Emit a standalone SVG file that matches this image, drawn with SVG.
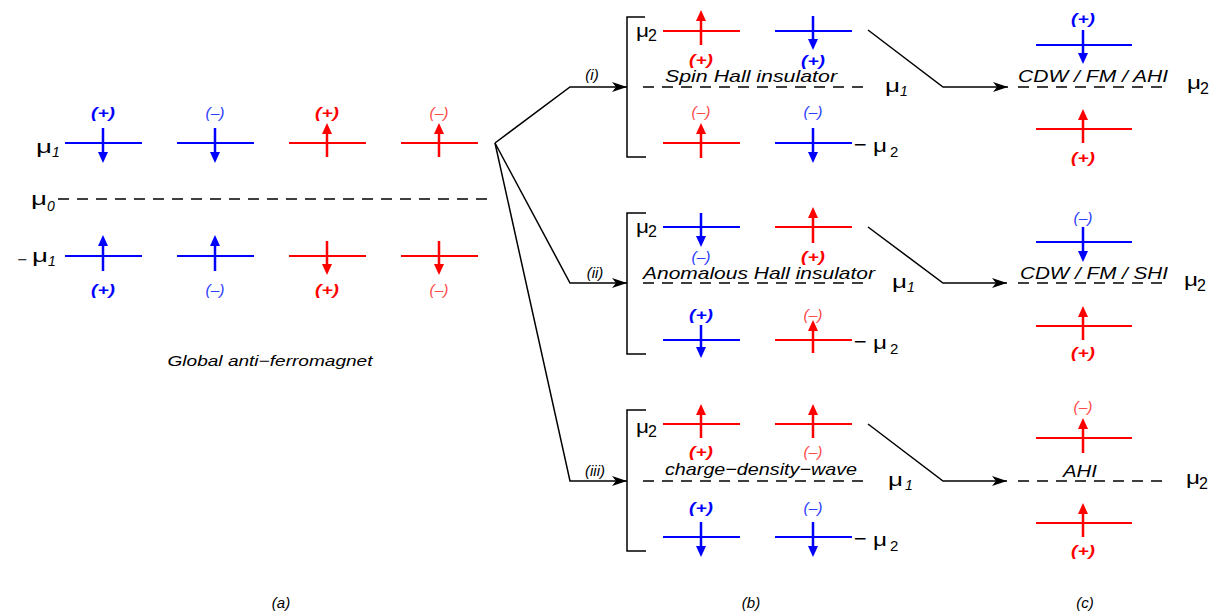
<svg xmlns="http://www.w3.org/2000/svg" width="1220" height="612" viewBox="0 0 1220 612">
<style>
text{font-family:"Liberation Sans",Arial,sans-serif;}
.lb{stroke:#0000ff;stroke-width:2;fill:none}
.lr{stroke:#ff0000;stroke-width:2;fill:none}
.ab{stroke:#0000ff;stroke-width:2.5;fill:none;marker-end:url(#hb)}
.ar{stroke:#ff0000;stroke-width:2.5;fill:none;marker-end:url(#hr)}
.dash{stroke:#000;stroke-width:1.5;stroke-dasharray:11 8;fill:none}
.br{stroke:#000;stroke-width:1.5;fill:none}
.conA{stroke:#000;stroke-width:1.5;fill:none;marker-end:url(#hk)}
.pb{fill:#0000ff;font-size:15px;font-style:italic;font-weight:bold;text-anchor:middle}
.pr{fill:#ff0000;font-size:15px;font-style:italic;font-weight:bold;text-anchor:middle}
.mb{fill:#2a3cff;font-size:15px;font-style:italic;text-anchor:middle}
.mr{fill:#ff4a4a;font-size:15px;font-style:italic;text-anchor:middle}
.mu{font-size:19px;fill:#000}
text.minus{font-family:"DejaVu Sans",sans-serif;font-size:17px;fill:#000}
.sub{font-size:16px;fill:#000}
.subi{font-size:14px;fill:#000;font-style:italic}
.it{font-size:17px;font-style:italic;fill:#000}
.cap{font-size:15px;font-style:italic;fill:#000;text-anchor:middle}
</style>
<defs>
<marker id="hb" viewBox="0 0 11 10" markerWidth="11" markerHeight="10" refX="1" refY="5" orient="auto" markerUnits="userSpaceOnUse"><path d="M0,0 L11,5 L0,10 z" fill="#0000ff"/></marker>
<marker id="hr" viewBox="0 0 11 10" markerWidth="11" markerHeight="10" refX="1" refY="5" orient="auto" markerUnits="userSpaceOnUse"><path d="M0,0 L11,5 L0,10 z" fill="#ff0000"/></marker>
<marker id="hk" viewBox="0 0 15 10" markerWidth="15" markerHeight="10" refX="15" refY="5" orient="auto" markerUnits="userSpaceOnUse"><path d="M0,0 L15,5 L0,10 L4,5 z" fill="#000"/></marker>
</defs>

<g id="panel-a">
  <text x="36" y="153" class="mu" textLength="16" lengthAdjust="spacingAndGlyphs">μ</text><text x="52" y="157" class="subi">1</text>
  <text x="31" y="205" class="mu" textLength="16" lengthAdjust="spacingAndGlyphs">μ</text><text x="47" y="211" class="subi">0</text>
  <text x="17" y="264" class="minus" style="font-size:13px">−</text>
  <text x="32" y="262" class="mu" textLength="16" lengthAdjust="spacingAndGlyphs">μ</text><text x="48" y="266" class="subi">1</text>
  <line x1="58" y1="199" x2="490" y2="199" class="dash"/>
  <line x1="65" y1="143" x2="142" y2="143" class="lb"/>
  <line x1="177" y1="143" x2="254" y2="143" class="lb"/>
  <line x1="289" y1="143" x2="366" y2="143" class="lr"/>
  <line x1="401" y1="143" x2="478" y2="143" class="lr"/>
  <line x1="103" y1="128" x2="103" y2="153" class="ab"/>
  <line x1="215" y1="128" x2="215" y2="153" class="ab"/>
  <line x1="327" y1="157" x2="327" y2="133" class="ar"/>
  <line x1="439" y1="157" x2="439" y2="133" class="ar"/>
  <text x="103" y="118" class="pb" textLength="24" lengthAdjust="spacingAndGlyphs">(+)</text>
  <text x="215" y="118" class="mb" textLength="19" lengthAdjust="spacingAndGlyphs">(–)</text>
  <text x="327" y="118" class="pr" textLength="24" lengthAdjust="spacingAndGlyphs">(+)</text>
  <text x="439" y="118" class="mr" textLength="19" lengthAdjust="spacingAndGlyphs">(–)</text>
  <line x1="65" y1="256" x2="142" y2="256" class="lb"/>
  <line x1="177" y1="256" x2="254" y2="256" class="lb"/>
  <line x1="289" y1="256" x2="366" y2="256" class="lr"/>
  <line x1="401" y1="256" x2="478" y2="256" class="lr"/>
  <line x1="103" y1="271" x2="103" y2="245" class="ab"/>
  <line x1="215" y1="271" x2="215" y2="245" class="ab"/>
  <line x1="327" y1="241" x2="327" y2="265" class="ar"/>
  <line x1="439" y1="241" x2="439" y2="265" class="ar"/>
  <text x="103" y="295" class="pb" textLength="24" lengthAdjust="spacingAndGlyphs">(+)</text>
  <text x="215" y="295" class="mb" textLength="19" lengthAdjust="spacingAndGlyphs">(–)</text>
  <text x="327" y="295" class="pr" textLength="24" lengthAdjust="spacingAndGlyphs">(+)</text>
  <text x="439" y="295" class="mr" textLength="19" lengthAdjust="spacingAndGlyphs">(–)</text>
  <text x="270" y="366" class="it" style="font-size:15px" text-anchor="middle" textLength="205" lengthAdjust="spacingAndGlyphs">Global anti−ferromagnet</text>
</g>

<g id="panel-b-i">
  <path d="M645,17 H627 V157 H646" class="br"/>
  <text x="636" y="37" class="mu" textLength="13" lengthAdjust="spacingAndGlyphs">μ</text><text x="648" y="41" class="sub">2</text>
  <line x1="663" y1="31" x2="740" y2="31" class="lr"/>
  <line x1="775" y1="31" x2="852" y2="31" class="lb"/>
  <line x1="701" y1="45" x2="701" y2="20" class="ar"/>
  <line x1="813" y1="16" x2="813" y2="40" class="ab"/>
  <text x="701" y="65" class="pr" textLength="24" lengthAdjust="spacingAndGlyphs">(+)</text>
  <text x="813" y="66" class="pb" textLength="24" lengthAdjust="spacingAndGlyphs">(+)</text>
  <text x="665" y="82" class="it" textLength="172" lengthAdjust="spacingAndGlyphs">Spin Hall insulator</text>
  <line x1="643" y1="87" x2="870" y2="87" class="dash"/>
  <text x="885" y="92" class="mu" textLength="15" lengthAdjust="spacingAndGlyphs">μ</text><text x="900" y="96" class="subi">1</text>
  <text x="701" y="117" class="mr" textLength="19" lengthAdjust="spacingAndGlyphs">(–)</text>
  <text x="813" y="117" class="mb" textLength="19" lengthAdjust="spacingAndGlyphs">(–)</text>
  <line x1="663" y1="143" x2="740" y2="143" class="lr"/>
  <line x1="775" y1="143" x2="852" y2="143" class="lb"/>
  <line x1="701" y1="158" x2="701" y2="133" class="ar"/>
  <line x1="813" y1="128" x2="813" y2="153" class="ab"/>
  <text x="853" y="150" class="minus">−</text>
  <text x="873" y="152" class="mu" textLength="14" lengthAdjust="spacingAndGlyphs">μ</text><text x="890" y="157" class="sub" style="font-size:15px">2</text>
</g>

<g id="panel-b-ii">
  <path d="M646,213 H627 V354 H646" class="br"/>
  <text x="636" y="233" class="mu" textLength="13" lengthAdjust="spacingAndGlyphs">μ</text><text x="648" y="237" class="sub">2</text>
  <line x1="663" y1="227" x2="740" y2="227" class="lb"/>
  <line x1="775" y1="227" x2="852" y2="227" class="lr"/>
  <line x1="701" y1="213" x2="701" y2="237" class="ab"/>
  <line x1="813" y1="243" x2="813" y2="217" class="ar"/>
  <text x="701" y="262" class="mb" textLength="19" lengthAdjust="spacingAndGlyphs">(–)</text>
  <text x="813" y="262" class="pr" textLength="24" lengthAdjust="spacingAndGlyphs">(+)</text>
  <text x="643" y="279" class="it" textLength="232" lengthAdjust="spacingAndGlyphs">Anomalous Hall insulator</text>
  <line x1="643" y1="283" x2="870" y2="283" class="dash"/>
  <text x="892" y="288" class="mu" textLength="15" lengthAdjust="spacingAndGlyphs">μ</text><text x="907" y="292" class="subi">1</text>
  <text x="701" y="320" class="pb" textLength="24" lengthAdjust="spacingAndGlyphs">(+)</text>
  <text x="813" y="320" class="mr" textLength="19" lengthAdjust="spacingAndGlyphs">(–)</text>
  <line x1="663" y1="340" x2="740" y2="340" class="lb"/>
  <line x1="775" y1="340" x2="852" y2="340" class="lr"/>
  <line x1="701" y1="325" x2="701" y2="348" class="ab"/>
  <line x1="813" y1="353" x2="813" y2="330" class="ar"/>
  <text x="853" y="347" class="minus">−</text>
  <text x="873" y="349" class="mu" textLength="14" lengthAdjust="spacingAndGlyphs">μ</text><text x="890" y="354" class="sub" style="font-size:15px">2</text>
</g>

<g id="panel-b-iii">
  <path d="M646,410 H627 V551 H646" class="br"/>
  <text x="636" y="433" class="mu" textLength="13" lengthAdjust="spacingAndGlyphs">μ</text><text x="648" y="437" class="sub">2</text>
  <line x1="663" y1="424" x2="740" y2="424" class="lr"/>
  <line x1="775" y1="424" x2="852" y2="424" class="lr"/>
  <line x1="701" y1="438" x2="701" y2="414" class="ar"/>
  <line x1="813" y1="438" x2="813" y2="414" class="ar"/>
  <text x="701" y="457" class="pr" textLength="24" lengthAdjust="spacingAndGlyphs">(+)</text>
  <text x="813" y="457" class="mr" textLength="19" lengthAdjust="spacingAndGlyphs">(–)</text>
  <text x="665" y="475" class="it" textLength="192" lengthAdjust="spacingAndGlyphs">charge−density−wave</text>
  <line x1="643" y1="481" x2="870" y2="481" class="dash"/>
  <text x="888" y="486" class="mu" textLength="15" lengthAdjust="spacingAndGlyphs">μ</text><text x="905" y="490" class="subi">1</text>
  <text x="701" y="513" class="pb" textLength="24" lengthAdjust="spacingAndGlyphs">(+)</text>
  <text x="813" y="513" class="mb" textLength="19" lengthAdjust="spacingAndGlyphs">(–)</text>
  <line x1="663" y1="537" x2="740" y2="537" class="lb"/>
  <line x1="775" y1="537" x2="852" y2="537" class="lb"/>
  <line x1="701" y1="522" x2="701" y2="547" class="ab"/>
  <line x1="813" y1="522" x2="813" y2="547" class="ab"/>
  <text x="853" y="544" class="minus">−</text>
  <text x="873" y="546" class="mu" textLength="14" lengthAdjust="spacingAndGlyphs">μ</text><text x="890" y="551" class="sub" style="font-size:15px">2</text>
</g>

<g id="panel-c-i">
  <text x="1083" y="24" class="pb" textLength="24" lengthAdjust="spacingAndGlyphs">(+)</text>
  <line x1="1036" y1="45" x2="1132" y2="45" class="lb"/>
  <line x1="1083" y1="30" x2="1083" y2="54" class="ab"/>
  <text x="1018" y="82" class="it" textLength="150" lengthAdjust="spacingAndGlyphs">CDW / FM / AHI</text>
  <line x1="1018" y1="87" x2="1168" y2="87" class="dash"/>
  <text x="1187" y="89" class="mu" textLength="14" lengthAdjust="spacingAndGlyphs">μ</text><text x="1200" y="94" class="sub">2</text>
  <line x1="1036" y1="129" x2="1132" y2="129" class="lr"/>
  <line x1="1083" y1="143" x2="1083" y2="119" class="ar"/>
  <text x="1083" y="163" class="pr" textLength="24" lengthAdjust="spacingAndGlyphs">(+)</text>
</g>

<g id="panel-c-ii">
  <text x="1083" y="223" class="mb" textLength="19" lengthAdjust="spacingAndGlyphs">(–)</text>
  <line x1="1036" y1="242" x2="1132" y2="242" class="lb"/>
  <line x1="1083" y1="227" x2="1083" y2="252" class="ab"/>
  <text x="1020" y="279" class="it" textLength="148" lengthAdjust="spacingAndGlyphs">CDW / FM / SHI</text>
  <line x1="1018" y1="283" x2="1168" y2="283" class="dash"/>
  <text x="1184" y="286" class="mu" textLength="14" lengthAdjust="spacingAndGlyphs">μ</text><text x="1197" y="291" class="sub">2</text>
  <line x1="1036" y1="326" x2="1132" y2="326" class="lr"/>
  <line x1="1083" y1="340" x2="1083" y2="316" class="ar"/>
  <text x="1083" y="358" class="pr" textLength="24" lengthAdjust="spacingAndGlyphs">(+)</text>
</g>

<g id="panel-c-iii">
  <text x="1083" y="412" class="mr" textLength="19" lengthAdjust="spacingAndGlyphs">(–)</text>
  <line x1="1036" y1="438" x2="1132" y2="438" class="lr"/>
  <line x1="1083" y1="453" x2="1083" y2="428" class="ar"/>
  <text x="1063" y="477" class="it" textLength="34" lengthAdjust="spacingAndGlyphs">AHI</text>
  <line x1="1018" y1="481" x2="1168" y2="481" class="dash"/>
  <text x="1186" y="484" class="mu" textLength="14" lengthAdjust="spacingAndGlyphs">μ</text><text x="1199" y="489" class="sub">2</text>
  <line x1="1036" y1="523" x2="1132" y2="523" class="lr"/>
  <line x1="1083" y1="537" x2="1083" y2="513" class="ar"/>
  <text x="1083" y="556" class="pr" textLength="24" lengthAdjust="spacingAndGlyphs">(+)</text>
</g>

<g id="connectors">
  <polyline points="495,143 570,87 627,87" class="conA"/>
  <polyline points="495,143 570,283 627,283" class="conA"/>
  <polyline points="495,143 570,481 627,481" class="conA"/>
  <polyline points="868,30 943,87 1008,87" class="conA"/>
  <polyline points="868,227 943,283 1007,283" class="conA"/>
  <polyline points="868,424 943,481 1007,481" class="conA"/>
  <text x="592" y="80" class="cap">(i)</text>
  <text x="595" y="278" class="cap">(ii)</text>
  <text x="595" y="476" class="cap">(iii)</text>
</g>

<g id="captions">
  <text x="281" y="608" class="cap">(a)</text>
  <text x="751" y="608" class="cap">(b)</text>
  <text x="1085" y="608" class="cap">(c)</text>
</g>
</svg>
